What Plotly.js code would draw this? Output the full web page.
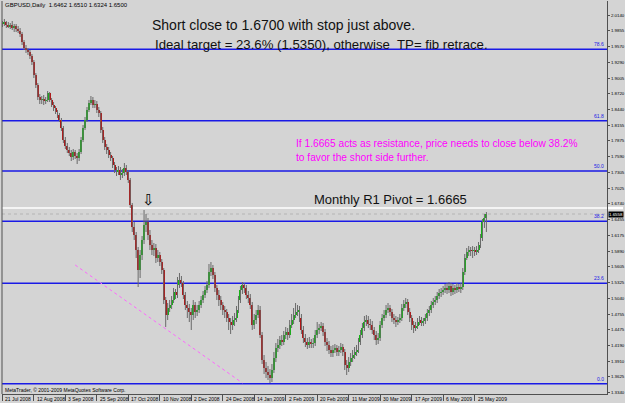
<!DOCTYPE html>
<html>
<head>
<meta charset="utf-8">
<script src="https://cdn.plot.ly/plotly-3.0.1.min.js"></script>
<style>
  html, body { margin: 0; padding: 0; background: #d4d4d4; }
  #chart { width: 625px; height: 403px; }
</style>
</head>
<body>
<div id="chart"></div>
<script>
// ---- Daily GBPUSD bars (bar index 0 = 21 Jul 2008) ----
const openP = [1.9996,1.9978,2.0014,1.9960,1.9924,1.9960,1.9906,1.9942,1.9888,1.9852,1.9798,1.9654,1.9546,1.9510,1.9474,1.9402,1.9294,1.9060,1.8880,1.8664,
1.8610,1.8628,1.8592,1.8610,1.8736,1.8610,1.8520,1.8466,1.8394,1.8340,1.8250,1.8106,1.7890,1.7782,1.7710,1.7656,1.7584,1.7674,1.7602,1.7566,
1.7674,1.7890,1.8106,1.8250,1.8430,1.8556,1.8610,1.8520,1.8538,1.8430,1.8376,1.8070,1.7890,1.7764,1.7710,1.7620,1.7566,1.7440,1.7350,1.7314,
1.7350,1.7260,1.7296,1.7386,1.7314,1.7170,1.6720,1.6324,1.6180,1.5910,1.5550,1.5820,1.6090,1.6360,1.6414,1.6180,1.6000,1.5910,1.5946,1.5766,
1.5820,1.5694,1.5550,1.5010,1.4740,1.4866,1.4920,1.5010,1.5154,1.5100,1.5280,1.5370,1.5316,1.5100,1.4920,1.4866,1.4794,1.4740,1.4920,1.4794,
1.4830,1.4920,1.5010,1.5100,1.5190,1.5280,1.5514,1.5586,1.5460,1.5226,1.5100,1.5010,1.4920,1.4830,1.4794,1.4686,1.4614,1.4560,1.4650,1.4686,
1.4830,1.5010,1.5190,1.5280,1.5226,1.5100,1.5046,1.4920,1.4560,1.4650,1.4740,1.4830,1.4380,1.3930,1.3786,1.3714,1.3660,1.3606,1.3750,1.3966,
1.4146,1.4200,1.4290,1.4254,1.4380,1.4434,1.4380,1.4560,1.4650,1.4740,1.4794,1.4830,1.4686,1.4470,1.4326,1.4254,1.4200,1.4254,1.4218,1.4236,
1.4380,1.4470,1.4506,1.4542,1.4434,1.4254,1.4200,1.4110,1.4056,1.4110,1.4146,1.4074,1.4110,1.4164,1.4074,1.3840,1.3786,1.3894,1.3966,1.4020,
1.4074,1.4110,1.4254,1.4380,1.4506,1.4614,1.4650,1.4578,1.4560,1.4470,1.4380,1.4290,1.4326,1.4560,1.4686,1.4740,1.4830,1.4866,1.4794,1.4686,
1.4650,1.4614,1.4650,1.4686,1.4866,1.4938,1.4974,1.4794,1.4686,1.4560,1.4506,1.4542,1.4614,1.4650,1.4596,1.4632,1.4686,1.4776,1.4830,1.4920,
1.4974,1.5010,1.5082,1.5136,1.5154,1.5190,1.5226,1.5190,1.5262,1.5154,1.5226,1.5190,1.5244,1.5208,1.5244,1.5514,1.5766,1.5874,1.5910,1.5892,
1.5910,1.5874,1.5910,1.6000,1.6126,1.6414,1.6486];
const highP = [2.0032,2.0068,2.0032,2.0014,1.9996,2.0032,1.9978,1.9978,1.9942,1.9906,1.9834,1.9690,1.9600,1.9546,1.9510,1.9438,1.9330,1.9096,1.8916,1.8718,
1.8682,1.8700,1.8664,1.8772,1.8754,1.8646,1.8574,1.8502,1.8430,1.8376,1.8286,1.8142,1.7944,1.7836,1.7764,1.7710,1.7728,1.7710,1.7656,1.7728,
1.7944,1.8160,1.8304,1.8484,1.8610,1.8682,1.8664,1.8610,1.8592,1.8484,1.8412,1.8124,1.7944,1.7818,1.7764,1.7674,1.7602,1.7494,1.7404,1.7422,
1.7404,1.7368,1.7476,1.7440,1.7350,1.7206,1.6756,1.6414,1.6234,1.5964,1.5910,1.6162,1.6630,1.6558,1.6486,1.6270,1.6090,1.6036,1.6018,1.5910,
1.5874,1.5748,1.5586,1.5064,1.4956,1.5010,1.5082,1.5226,1.5208,1.5424,1.5496,1.5442,1.5352,1.5154,1.4992,1.4938,1.4866,1.5010,1.4974,1.4920,
1.4992,1.5082,1.5172,1.5262,1.5352,1.5658,1.5694,1.5640,1.5514,1.5280,1.5190,1.5082,1.4974,1.4902,1.4848,1.4758,1.4686,1.4722,1.4776,1.4902,
1.5082,1.5262,1.5334,1.5316,1.5280,1.5172,1.5118,1.4974,1.4758,1.4830,1.4920,1.4902,1.4434,1.4020,1.3894,1.3822,1.3768,1.3858,1.4074,1.4236,
1.4308,1.4362,1.4380,1.4452,1.4524,1.4506,1.4650,1.4758,1.4866,1.4956,1.4920,1.4902,1.4758,1.4542,1.4398,1.4326,1.4344,1.4308,1.4326,1.4470,
1.4614,1.4578,1.4614,1.4596,1.4488,1.4326,1.4272,1.4182,1.4200,1.4218,1.4200,1.4182,1.4236,1.4218,1.4128,1.3930,1.3984,1.4056,1.4110,1.4164,
1.4200,1.4326,1.4470,1.4596,1.4722,1.4740,1.4722,1.4668,1.4632,1.4524,1.4452,1.4416,1.4632,1.4758,1.4830,1.4920,1.4956,1.4920,1.4848,1.4758,
1.4722,1.4704,1.4758,1.4938,1.5010,1.5046,1.5028,1.4866,1.4740,1.4632,1.4614,1.4686,1.4722,1.4704,1.4686,1.4758,1.4848,1.4902,1.4992,1.5046,
1.5082,1.5154,1.5208,1.5226,1.5262,1.5298,1.5316,1.5334,1.5316,1.5298,1.5280,1.5316,1.5298,1.5316,1.5586,1.5838,1.5946,1.5982,1.5964,1.5982,
1.5964,1.5982,1.6054,1.6198,1.6468,1.6558,1.6594];
const lowP = [1.9924,1.9942,1.9906,1.9906,1.9888,1.9870,1.9834,1.9834,1.9816,1.9744,1.9600,1.9510,1.9456,1.9420,1.9348,1.9240,1.9006,1.8826,1.8610,1.8538,
1.8538,1.8520,1.8538,1.8574,1.8574,1.8484,1.8412,1.8358,1.8286,1.8214,1.8052,1.7836,1.7728,1.7656,1.7602,1.7512,1.7530,1.7548,1.7458,1.7512,
1.7638,1.7854,1.8070,1.8214,1.8394,1.8520,1.8466,1.8466,1.8376,1.8304,1.8016,1.7836,1.7710,1.7638,1.7566,1.7512,1.7386,1.7296,1.7242,1.7260,
1.7170,1.7206,1.7242,1.7260,1.7116,1.6666,1.6234,1.6090,1.5766,1.5244,1.5406,1.5730,1.6018,1.6234,1.6090,1.5910,1.5820,1.5802,1.5676,1.5694,
1.5622,1.5478,1.4938,1.4524,1.4650,1.4794,1.4848,1.4956,1.5028,1.5046,1.5226,1.5244,1.5028,1.4830,1.4686,1.4614,1.4470,1.4650,1.4686,1.4722,
1.4776,1.4866,1.4956,1.5046,1.5136,1.5226,1.5442,1.5388,1.5154,1.5010,1.4902,1.4830,1.4740,1.4686,1.4614,1.4470,1.4398,1.4470,1.4542,1.4614,
1.4776,1.4956,1.5118,1.5136,1.5028,1.4956,1.4848,1.4470,1.4488,1.4578,1.4686,1.4326,1.3858,1.3678,1.3606,1.3570,1.3516,1.3534,1.3696,1.3894,
1.4074,1.4128,1.4182,1.4200,1.4308,1.4290,1.4326,1.4506,1.4578,1.4686,1.4722,1.4614,1.4398,1.4236,1.4164,1.4128,1.4146,1.4146,1.4146,1.4182,
1.4326,1.4398,1.4452,1.4362,1.4182,1.4092,1.4038,1.3984,1.3984,1.4056,1.4002,1.4002,1.4056,1.4002,1.3750,1.3660,1.3714,1.3822,1.3894,1.3948,
1.4002,1.4056,1.4200,1.4326,1.4452,1.4542,1.4506,1.4470,1.4398,1.4290,1.4200,1.4218,1.4272,1.4506,1.4632,1.4686,1.4776,1.4722,1.4614,1.4578,
1.4524,1.4560,1.4596,1.4632,1.4812,1.4866,1.4740,1.4614,1.4470,1.4416,1.4452,1.4488,1.4560,1.4542,1.4542,1.4578,1.4632,1.4722,1.4776,1.4866,
1.4920,1.4956,1.5028,1.5064,1.5100,1.5136,1.5118,1.5136,1.5082,1.5100,1.5118,1.5136,1.5154,1.5136,1.5190,1.5460,1.5730,1.5802,1.5802,1.5766,
1.5802,1.5820,1.5856,1.5946,1.6072,1.6306,1.6234];
const closeP = [1.9978,2.0014,1.9960,1.9924,1.9960,1.9906,1.9942,1.9888,1.9852,1.9798,1.9654,1.9546,1.9510,1.9474,1.9402,1.9294,1.9060,1.8880,1.8664,1.8610,
1.8628,1.8592,1.8610,1.8736,1.8610,1.8520,1.8466,1.8394,1.8340,1.8250,1.8106,1.7890,1.7782,1.7710,1.7656,1.7584,1.7674,1.7602,1.7566,1.7674,
1.7890,1.8106,1.8250,1.8430,1.8556,1.8610,1.8520,1.8538,1.8430,1.8376,1.8070,1.7890,1.7764,1.7710,1.7620,1.7566,1.7440,1.7350,1.7314,1.7350,
1.7260,1.7296,1.7386,1.7314,1.7170,1.6720,1.6324,1.6180,1.5910,1.5550,1.5820,1.6090,1.6360,1.6414,1.6180,1.6000,1.5910,1.5946,1.5766,1.5820,
1.5694,1.5550,1.5010,1.4740,1.4866,1.4920,1.5010,1.5154,1.5100,1.5280,1.5370,1.5316,1.5100,1.4920,1.4866,1.4794,1.4740,1.4920,1.4794,1.4830,
1.4920,1.5010,1.5100,1.5190,1.5280,1.5514,1.5586,1.5460,1.5226,1.5100,1.5010,1.4920,1.4830,1.4794,1.4686,1.4614,1.4560,1.4650,1.4686,1.4830,
1.5010,1.5190,1.5280,1.5226,1.5100,1.5046,1.4920,1.4560,1.4650,1.4740,1.4830,1.4380,1.3930,1.3786,1.3714,1.3660,1.3606,1.3750,1.3966,1.4146,
1.4200,1.4290,1.4254,1.4380,1.4434,1.4380,1.4560,1.4650,1.4740,1.4794,1.4830,1.4686,1.4470,1.4326,1.4254,1.4200,1.4254,1.4218,1.4236,1.4380,
1.4470,1.4506,1.4542,1.4434,1.4254,1.4200,1.4110,1.4056,1.4110,1.4146,1.4074,1.4110,1.4164,1.4074,1.3840,1.3786,1.3894,1.3966,1.4020,1.4074,
1.4110,1.4254,1.4380,1.4506,1.4614,1.4650,1.4578,1.4560,1.4470,1.4380,1.4290,1.4326,1.4560,1.4686,1.4740,1.4830,1.4866,1.4794,1.4686,1.4650,
1.4614,1.4650,1.4686,1.4866,1.4938,1.4974,1.4794,1.4686,1.4560,1.4506,1.4542,1.4614,1.4650,1.4596,1.4632,1.4686,1.4776,1.4830,1.4920,1.4974,
1.5010,1.5082,1.5136,1.5154,1.5190,1.5226,1.5190,1.5262,1.5154,1.5226,1.5190,1.5244,1.5208,1.5244,1.5514,1.5766,1.5874,1.5910,1.5892,1.5910,
1.5874,1.5910,1.6000,1.6126,1.6414,1.6486,1.6558];

// x-axis date labels (every 16 bars) and right-hand price labels
const dateTickIdx = [0,16,32,48,64,80,96,112,128,144,160,176,192,208,224,240];
const dateTickText = ["21 Jul 2008","12 Aug 2008","3 Sep 2008","25 Sep 2008","17 Oct 2008","10 Nov 2008","2 Dec 2008","24 Dec 2008",
  "14 Jan 2009","2 Feb 2009","20 Feb 2009","11 Mar 2009","30 Mar 2009","17 Apr 2009","6 May 2009","25 May 2009"];
const priceTicks = [2.0140,1.9855,1.9570,1.9290,1.9005,1.8720,1.8440,1.8155,1.7875,1.7590,1.7305,1.7025,1.6740,
  1.6455,1.6175,1.5890,1.5605,1.5325,1.5040,1.4755,1.4475,1.4190,1.3910,1.3625,1.3340];

// Fibonacci retracement levels and other horizontal levels
const fibLabels = ["0.0","23.6","38.2","50.0","61.8","78.6"];
const fibPrices = [1.3503,1.5310,1.6428,1.7332,1.8236,1.9522];
const pivotR1 = 1.6665;
const bidPrice = 1.6558;
// dotted trend line (bar index, price)
const trendX = [37, 122];
const trendY = [1.5640, 1.3516];

// ---------------------------------------------------------------
const n = closeP.length;
const idx = closeP.map((_, i) => i);
const wickX = [], wickY = [];
for (let i = 0; i < n; i++) { wickX.push(i, i, null); wickY.push(lowP[i], highP[i], null); }
const bodyBase = closeP.map((c, i) => Math.min(c, openP[i]));
const bodyH = closeP.map((c, i) => Math.max(Math.abs(c - openP[i]), 0.0008));
const bodyCol = closeP.map((c, i) => c >= openP[i] ? '#14b414' : '#b41414');

const PL = 2, PR = 607, PT = 1, PB = 394;
const ax = px => (px - PL) / (PR - PL);
const ay = py => (PB - py) / (PB - PT);
const FONT = 'Liberation Sans, Arial, sans-serif';

const traces = [
  { type: 'scatter', mode: 'lines', x: wickX, y: wickY, line: { color: '#6a6a6a', width: 1 }, hoverinfo: 'skip', showlegend: false },
  { type: 'bar', x: idx, y: bodyH, base: bodyBase, width: 1.0, marker: { color: bodyCol, line: { width: 0 } }, hoverinfo: 'skip', showlegend: false }
];

const shapes = [];
fibPrices.forEach(p => shapes.push({ type: 'line', xref: 'paper', x0: 0, x1: 1, yref: 'y', y0: p, y1: p, line: { color: '#1a1ae6', width: 1.5 }, layer: 'below' }));
shapes.push({ type: 'line', xref: 'paper', x0: 0, x1: 1, yref: 'y', y0: pivotR1, y1: pivotR1, line: { color: '#ffffff', width: 1.5 }, layer: 'below' });
shapes.push({ type: 'line', xref: 'paper', x0: 0, x1: 1, yref: 'y', y0: bidPrice, y1: bidPrice, line: { color: '#b4b4b4', width: 1, dash: 'dot' }, layer: 'below' });
shapes.push({ type: 'line', xref: 'x', yref: 'y', x0: trendX[0], x1: trendX[1], y0: trendY[0], y1: trendY[1], line: { color: '#ff66ff', width: 1, dash: 'dot' }, layer: 'below' });
shapes.push({ type: 'line', xref: 'paper', yref: 'paper', x0: 0, x1: 0, y0: 0, y1: 1, line: { color: '#505050', width: 1 } });
// white price tag of the R1 line on the price scale
shapes.push({ type: 'rect', xref: 'paper', x0: ax(608), x1: ax(623), yref: 'y', y0: pivotR1 - 0.0022, y1: pivotR1 + 0.0022, line: { width: 0 }, fillcolor: '#ffffff' });

const annotations = [];
const txt = (s, px, py, size, color) => ({
  text: s, xref: 'paper', yref: 'paper', x: ax(px), y: ay(py), xanchor: 'left', yanchor: 'middle',
  showarrow: false, font: { family: FONT, size: size, color: color }
});
annotations.push(txt('GBPUSD,Daily  1.6462 1.6510 1.6324 1.6500', 3, 5, 6.0, '#000'));
annotations.push(txt('Short close to 1.6700 with stop just above.', 150, 25, 14, '#111'));
annotations.push(txt('Ideal target = 23.6% (1.5350), otherwise  TP= fib retrace.', 153, 44, 13.2, '#111'));
annotations.push(txt('If 1.6665 acts as resistance, price needs to close below 38.2%', 294, 143, 10.2, '#ff00ff'));
annotations.push(txt('to favor the short side further.', 294, 158, 10.2, '#ff00ff'));
annotations.push(txt('Monthly R1 Pivot = 1.6665', 312, 200, 13, '#111'));
annotations.push(txt('MetaTrader, © 2001-2009 MetaQuotes Software Corp.', 3, 390, 5, '#000'));
annotations.push(txt('⇩', 140, 200, 15, '#000'));
// date labels, written just to the right of each tick as in the original
dateTickIdx.forEach((t, k) => annotations.push({
  text: dateTickText[k], xref: 'x', x: t, xanchor: 'left', xshift: 1, yref: 'paper', y: ay(398.5), yanchor: 'middle',
  showarrow: false, font: { family: FONT, size: 5, color: '#000' }
}));
fibLabels.forEach((l, k) => annotations.push({
  text: l, xref: 'paper', x: 1, xanchor: 'right', xshift: -1, yref: 'y', y: fibPrices[k], yanchor: 'bottom',
  showarrow: false, font: { family: FONT, size: 5, color: '#1a1ae6' }
}));
annotations.push({ text: bidPrice.toFixed(4), xref: 'paper', x: 1, xanchor: 'left', xshift: 1, yref: 'y', y: bidPrice, yanchor: 'top', yshift: 3,
  showarrow: false, bgcolor: '#000000', borderpad: 0, font: { family: FONT, size: 4.4, color: '#fff' } });

const layout = {
  width: 625, height: 403,
  margin: { l: PL, r: 625 - PR, t: PT, b: 403 - PB, pad: 0 },
  paper_bgcolor: '#d4d4d4', plot_bgcolor: '#d4d4d4',
  showlegend: false, barmode: 'overlay', bargap: 0,
  xaxis: {
    range: [-0.2, 307.3], tickmode: 'array', tickvals: dateTickIdx, showticklabels: false,
    ticks: 'outside', ticklen: 6, tickcolor: '#505050',
    showgrid: false, zeroline: false, showline: true, linecolor: '#505050', linewidth: 1, fixedrange: true
  },
  yaxis: {
    side: 'right', range: [1.3318, 2.0392], tickmode: 'array', tickvals: priceTicks, ticktext: priceTicks.map(v => v.toFixed(4)),
    ticks: 'outside', ticklen: 2, tickcolor: '#505050', ticklabelstandoff: 0,
    tickfont: { family: FONT, size: 4.4, color: '#000' },
    showgrid: false, zeroline: false, showline: true, linecolor: '#505050', linewidth: 1, fixedrange: true
  },
  shapes: shapes, annotations: annotations
};

Plotly.newPlot('chart', traces, layout, { staticPlot: true, displayModeBar: false });
</script>
</body>
</html>
